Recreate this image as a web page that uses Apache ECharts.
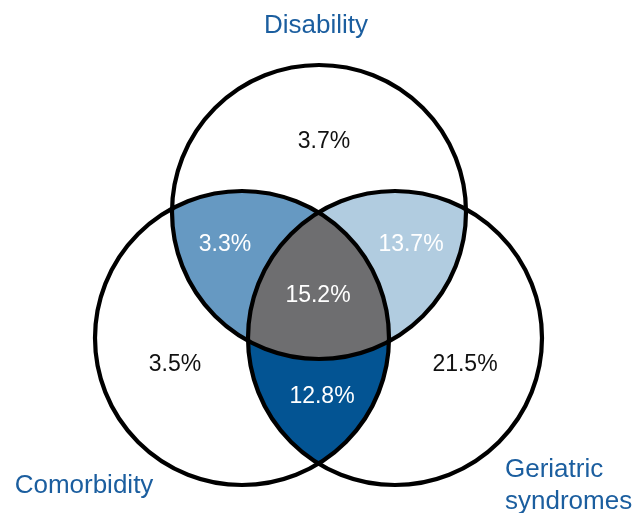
<!DOCTYPE html>
<html>
<head>
<meta charset="utf-8">
<script src="https://cdn.jsdelivr.net/npm/echarts@6/dist/echarts.min.js"></script>
<style>
  html, body { margin: 0; padding: 0; background: #fff; }
  #chart { width: 634px; height: 513px; }
</style>
</head>
<body>
<div id="chart"></div>
<script>
// sets and overlap shares
var setNames = ['Disability', 'Comorbidity', 'Geriatric\nsyndromes'];
var regionNames = ['Disability only', 'Comorbidity only', 'Geriatric syndromes only',
                   'Disability + Comorbidity', 'Disability + Geriatric syndromes',
                   'Comorbidity + Geriatric syndromes', 'All three'];
var regionValues = [3.7, 3.5, 21.5, 3.3, 13.7, 12.8, 15.2];
var regionSets = [[0], [1], [2], [0, 1], [0, 2], [1, 2], [0, 1, 2]];

// layout (chart units = pixels)
var circleAt = [[319, 212], [242, 338], [395, 338]];
var circleR = 147;
var labelAt = [[324, 142], [175, 365], [465, 365], [225, 245], [411, 245], [322, 397], [318, 296]];
var nameAt = [[316, 26], [84, 486], [505, 486]];
var regionColors = ['#ffffff', '#ffffff', '#ffffff', '#6699c2', '#b1cce0', '#035493', '#6e6e70'];
var labelColors = ['#111', '#111', '#111', '#fff', '#fff', '#fff', '#fff'];

var chart = echarts.init(document.getElementById('chart'));

function meet(c1, c2, r) {
    var dx = c2[0] - c1[0], dy = c2[1] - c1[1];
    var d = Math.sqrt(dx * dx + dy * dy);
    var h = Math.sqrt(r * r - d * d / 4);
    var mx = c1[0] + dx / 2, my = c1[1] + dy / 2;
    var ux = -dy / d, uy = dx / d;
    return [[mx + ux * h, my + uy * h], [mx - ux * h, my - uy * h]];
}
function dist(a, b) {
    return Math.sqrt((a[0] - b[0]) * (a[0] - b[0]) + (a[1] - b[1]) * (a[1] - b[1]));
}
function arcPts(c, r, p1, p2) {
    var a1 = Math.atan2(p1[1] - c[1], p1[0] - c[0]);
    var a2 = Math.atan2(p2[1] - c[1], p2[0] - c[0]);
    var d = a2 - a1;
    while (d > Math.PI) d -= 2 * Math.PI;
    while (d < -Math.PI) d += 2 * Math.PI;
    var pts = [];
    for (var k = 0; k <= 60; k++) {
        var a = a1 + d * k / 60;
        pts.push([c[0] + r * Math.cos(a), c[1] + r * Math.sin(a)]);
    }
    return pts;
}

function renderFill(params, api) {
    var idx = api.value(0);
    var sets = regionSets[idx];
    var c = circleAt.map(function (p) { return api.coord(p); });
    var r = api.size([circleR, circleR])[0];
    var pts;
    if (sets.length === 2) {
        var i = sets[0], j = sets[1];
        var m = meet(c[i], c[j], r);
        pts = arcPts(c[i], r, m[0], m[1]).concat(arcPts(c[j], r, m[1], m[0]));
    } else {
        // inner corner of each pair = the one inside the third circle
        function inner(i, j, k) {
            var m = meet(c[i], c[j], r);
            return dist(m[0], c[k]) < dist(m[1], c[k]) ? m[0] : m[1];
        }
        var x01 = inner(0, 1, 2), x02 = inner(0, 2, 1), x12 = inner(1, 2, 0);
        pts = arcPts(c[0], r, x01, x02)
            .concat(arcPts(c[2], r, x02, x12))
            .concat(arcPts(c[1], r, x12, x01));
    }
    return {
        type: 'polygon',
        shape: { points: pts },
        style: { fill: regionColors[idx], stroke: null }
    };
}

function renderCircle(params, api) {
    var idx = api.value(0);
    var c = api.coord(circleAt[idx]);
    var r = api.size([circleR, circleR])[0];
    return {
        type: 'circle',
        shape: { cx: c[0], cy: c[1], r: r },
        style: { fill: null, stroke: '#000', lineWidth: 4.2 }
    };
}

var fillData = [];
regionSets.forEach(function (s, i) {
    if (s.length > 1) fillData.push([i, 0]);
});

var valueLabels = regionValues.map(function (v, i) {
    return {
        name: regionNames[i],
        value: labelAt[i],
        label: { color: labelColors[i] }
    };
});
var nameLabels = setNames.map(function (n, i) {
    return {
        name: n,
        value: nameAt[i],
        label: { align: i === 2 ? 'left' : 'center' }
    };
});

chart.setOption({
    animation: false,
    backgroundColor: '#fff',
    grid: { left: 0, right: 0, top: 0, bottom: 0 },
    xAxis: { type: 'value', min: 0, max: 634, show: false },
    yAxis: { type: 'value', min: 0, max: 513, inverse: true, show: false },
    series: [
        {
            type: 'custom',
            z: 1,
            renderItem: renderFill,
            encode: { x: 0, y: 1 },
            data: fillData,
            clip: false,
            silent: true
        },
        {
            type: 'custom',
            z: 2,
            renderItem: renderCircle,
            encode: { x: 0, y: 1 },
            data: setNames.map(function (n, i) { return [i, 0]; }),
            clip: false,
            silent: true
        },
        {
            type: 'scatter',
            z: 3,
            symbolSize: 0,
            itemStyle: { opacity: 1 },
            data: valueLabels,
            label: {
                show: true,
                position: 'inside',
                fontFamily: 'Liberation Sans',
                fontSize: 23,
                color: '#111',
                textBorderWidth: 0,
                textBorderColor: 'transparent',
                formatter: function (p) { return regionValues[p.dataIndex].toFixed(1) + '%'; }
            },
            silent: true
        },
        {
            type: 'scatter',
            z: 3,
            symbolSize: 0,
            itemStyle: { opacity: 1 },
            data: nameLabels,
            label: {
                show: true,
                position: 'inside',
                fontFamily: 'Liberation Sans',
                fontSize: 26,
                lineHeight: 32,
                color: '#1b5e9f',
                textBorderWidth: 0,
                textBorderColor: 'transparent',
                verticalAlign: 'middle',
                formatter: '{b}'
            },
            silent: true
        }
    ]
});
</script>
</body>
</html>
